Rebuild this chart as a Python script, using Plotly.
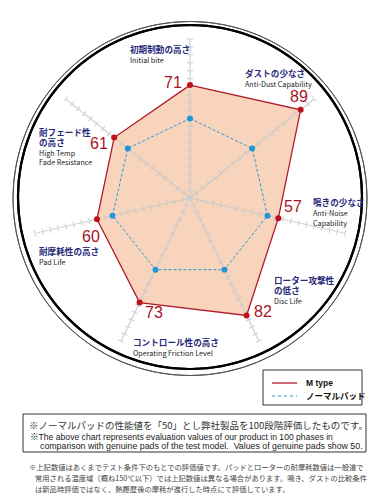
import numpy as np
import plotly.graph_objects as go

# ---------------- data ----------------
categories_jp = ["初期制動の高さ", "ダストの少なさ", "鳴きの少なさ", "ローター攻撃性\nの低さ",
                 "コントロール性の高さ", "耐摩耗性の高さ", "耐フェード性\nの高さ"]
categories_en = ["Initial bite", "Anti-Dust Capability", "Anti-Noise\nCapability", "Disc Life",
                 "Operating Friction Level", "Pad Life", "High Temp\nFade Resistance"]
m_type = [71, 89, 57, 82, 73, 60, 61]
normal_pad = [50, 50, 50, 50, 50, 50, 50]
series_names = ["M type", "ノーマルパッド"]
radial_range = [0, 100]
tick_step = 5

note_box_lines = [
    "※ノーマルパッドの性能値を「50」とし弊社製品を100段階評価したものです。",
    "※The above chart represents evaluation values of our product in 100 phases in",
    "comparison with genuine pads of the test model.  Values of genuine pads show 50.",
]
footnote_lines = [
    "※上記数値はあくまでテスト条件下のもとでの評価値です。パッドとローターの耐摩耗数値は一般道で",
    "常用される温度域（概ね150℃以下）では上記数値は異なる場合があります。鳴き、ダストの比較条件",
    "は新品時評価ではなく、熱履歴後の摩耗が進行した時点にて評価しています。",
]

# ---------------- styling / layout helpers ----------------
W, H = 380, 500
def px(x): return x / W
def py(y): return 1 - y / H

def circ_domain(cx, cy, r):
    return dict(x=[px(cx - r), px(cx + r)], y=[py(cy + r), py(cy - r)])

CX, CY, R = 190, 198, 159
dom = circ_domain(CX, CY, R)

RED = "#b01a2c"
FILL = "#f8d4bc"
BLUE = "#2a9ad2"
NAVY = "#262a7a"
GRID = "#c9c9c9"
JP = "Noto Sans CJK JP"
EN = "Liberation Sans, Arial, Noto Sans CJK JP"

theta = [c.replace("\n", "") for c in categories_jp]
theta_c = theta + theta[:1]

fig = go.Figure()
layout_polars = {}
base_ang = dict(type="category", categoryarray=theta, direction="clockwise", rotation=90,
                showline=False, showgrid=False, showticklabels=False, ticks="")

# fill (bottom data layer)
layout_polars["polar"] = dict(domain=dom, bgcolor="rgba(0,0,0,0)", angularaxis=base_ang,
                              radialaxis=dict(range=radial_range, visible=False))
fig.add_trace(go.Scatterpolar(r=m_type + m_type[:1], theta=theta_c, subplot="polar",
                              mode="lines", fill="toself", fillcolor=FILL,
                              line=dict(width=0, color=FILL), showlegend=False, hoverinfo="skip"))
idx = 2

# spokes with tick marks: one radial axis per category direction
n = len(theta)
for k in range(n):
    ang = 90 - k * 360 / n
    for tk in ("outside", "inside"):
        name = f"polar{idx}"
        layout_polars[name] = dict(
            domain=dom, bgcolor="rgba(0,0,0,0)",
            angularaxis=dict(showline=False, showgrid=False, showticklabels=False, ticks=""),
            radialaxis=dict(range=radial_range, angle=ang, showline=(tk == "outside"),
                            linecolor=GRID, linewidth=1, ticks=tk, dtick=tick_step, tick0=0,
                            ticklen=2.5, tickwidth=1, tickcolor=GRID, showticklabels=False,
                            showgrid=False))
        fig.add_trace(go.Scatterpolar(r=[0], theta=[0], subplot=name, mode="markers",
                                      marker=dict(opacity=0), hoverinfo="skip", showlegend=False))
        idx += 1

top = f"polar{idx}"
layout_polars[top] = dict(domain=dom, bgcolor="rgba(0,0,0,0)", angularaxis=base_ang,
                          radialaxis=dict(range=radial_range, visible=False))
idx += 1

# lines
fig.add_trace(go.Scatterpolar(r=m_type + m_type[:1], theta=theta_c, subplot=top, mode="lines",
                              line=dict(color=RED, width=1.3), name=series_names[0], showlegend=False))
fig.add_trace(go.Scatterpolar(r=normal_pad + normal_pad[:1], theta=theta_c, subplot=top, mode="lines",
                              line=dict(color=BLUE, width=1, dash="3px,2px"), name=series_names[1],
                              showlegend=False))
fig.add_trace(go.Scatterpolar(r=[0], theta=theta[:1], subplot=top, mode="markers",
                              marker=dict(color="#cfcfcf", size=5), showlegend=False, hoverinfo="skip"))
fig.add_trace(go.Scatterpolar(r=m_type, theta=theta, subplot=top, mode="markers",
                              marker=dict(color="#c0101c", size=6), showlegend=False, hoverinfo="skip"))
fig.add_trace(go.Scatterpolar(r=normal_pad, theta=theta, subplot=top, mode="markers",
                              marker=dict(color="#1e98d8", size=6), showlegend=False, hoverinfo="skip"))

# decorative disc outlines drawn as closed rings in their own polar frames
ring_theta = list(np.linspace(0, 360, 241))
rings = [(190, 198.5, 177, "#555", 1), (190, 197, 172, "#000", 2.2)]
shapes = []
for (cx, cy, r, col, lw) in rings:
    name = f"polar{idx}"
    layout_polars[name] = dict(domain=circ_domain(cx, cy, r + 2), bgcolor="rgba(0,0,0,0)",
                               angularaxis=dict(showline=False, showgrid=False,
                                                showticklabels=False, ticks=""),
                               radialaxis=dict(range=[0, (r + 2) / r], visible=False))
    fig.add_trace(go.Scatterpolar(r=[1] * len(ring_theta), theta=ring_theta, subplot=name,
                                  mode="lines", line=dict(color=col, width=lw),
                                  hoverinfo="skip", showlegend=False, cliponaxis=False))
    shapes.append(dict(type="circle", xref="paper", yref="paper",
                       x0=px(cx - r), x1=px(cx + r), y0=py(cy + r), y1=py(cy - r),
                       line=dict(color=col, width=lw), layer="above"))
    idx += 1

annotations = []
# category labels (left x, top y)
label_pos = [(128, 41), (243, 65), (311, 194), (272, 272), (131, 334), (37, 243), (37, 124)]
for jp, en, (lx, ly) in zip(categories_jp, categories_en, label_pos):
    txt = (f"<span style='font-size:8.6px;color:{NAVY};font-weight:bold'>{jp.replace(chr(10), '<br>')}</span><br>"
           f"<span style='font-size:7.2px'>{en.replace(chr(10), '<br>')}</span>")
    annotations.append(dict(x=px(lx), y=py(ly), xref="paper", yref="paper", xanchor="left",
                            yanchor="top", align="left", showarrow=False, text=txt,
                            font=dict(family=JP, size=7.5, color="#222")))
# value labels
value_pos = [(173, 82), (299, 97), (293, 207), (263, 311), (154, 312), (91, 236), (99, 143)]
for v, (vx, vy) in zip(m_type, value_pos):
    annotations.append(dict(x=px(vx), y=py(vy), xref="paper", yref="paper", xanchor="center",
                            yanchor="middle", showarrow=False, text=str(v),
                            font=dict(family=EN, size=16, color="#a8141e")))
# legend (box, sample lines, names)
legend_rows = [(383, RED, "solid", 1.3), (396, BLUE, "dot", 1)]
shapes.append(dict(type="rect", xref="paper", yref="paper", x0=px(263), x1=px(362),
                   y0=py(405), y1=py(370), line=dict(color="#333", width=1), fillcolor="white"))
for name_, (ly, col, dash, lw) in zip(series_names, legend_rows):
    shapes.append(dict(type="line", xref="paper", yref="paper", x0=px(272), x1=px(297),
                       y0=py(ly), y1=py(ly), line=dict(color=col, width=lw, dash=dash)))
    annotations.append(dict(x=px(304), y=py(ly), xref="paper", yref="paper", xanchor="left",
                            yanchor="middle", showarrow=False, text=name_,
                            font=dict(family=EN, size=8.5, color="#111", weight="bold")))
# boxed note
box_text_pos = [(27, 425, 9.5, JP, "#333"), (28, 437, 8.6, EN, "#222"), (38, 446, 8.8, EN, "#222")]
for t, (tx, ty, fs, ff, fc) in zip(note_box_lines, box_text_pos):
    annotations.append(dict(x=px(tx), y=py(ty), xref="paper", yref="paper", xanchor="left",
                            yanchor="middle", showarrow=False, text=t,
                            font=dict(family=ff, size=fs, color=fc)))
foot_pos = [(27, 467), (33, 478), (33, 489)]
for t, (tx, ty) in zip(footnote_lines, foot_pos):
    annotations.append(dict(x=px(tx), y=py(ty), xref="paper", yref="paper", xanchor="left",
                            yanchor="middle", showarrow=False, text=t,
                            font=dict(family=JP, size=7.3, color="#444")))

shapes.append(dict(type="rect", xref="paper", yref="paper", x0=px(23), x1=px(366),
                   y0=py(452), y1=py(414), line=dict(color="#333", width=1)))

fig.update_layout(
    width=W, height=H, margin=dict(l=0, r=0, t=0, b=0),
    annotations=annotations, shapes=shapes, showlegend=False,
    **layout_polars,
)

fig.write_html("out.html")
